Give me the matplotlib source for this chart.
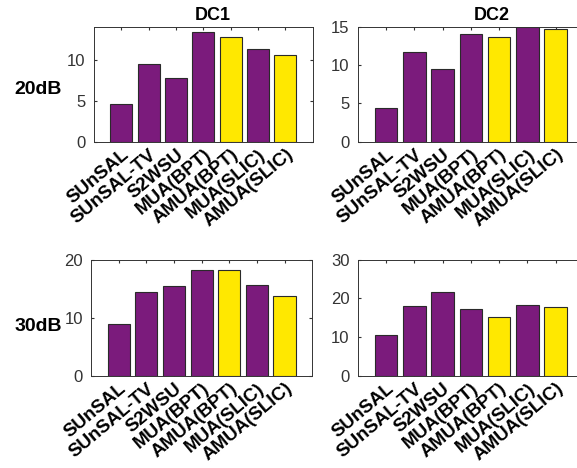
import matplotlib.pyplot as plt
import numpy as np

METHODS = ['SUnSAL', 'SUnSAL-TV', 'S2WSU', 'MUA(BPT)',
           'AMUA(BPT)', 'MUA(SLIC)', 'AMUA(SLIC)']
# which methods are the proposed ones (drawn in yellow)
PROPOSED = [False, False, False, False, True, False, True]

dc1_20db = [4.6, 9.5, 7.7, 13.4, 12.7, 11.3, 10.5]
dc2_20db = [4.4, 11.7, 9.5, 14.1, 13.7, 14.9, 14.7]
dc1_30db = [9.0, 14.5, 15.4, 18.3, 18.2, 15.7, 13.8]
dc2_30db = [10.6, 18.1, 21.7, 17.3, 15.2, 18.3, 17.8]

YLIMS = [(0, 14), (0, 15), (0, 20), (0, 30)]
YTICKS = [[0, 5, 10], [0, 5, 10, 15], [0, 10, 20], [0, 10, 20, 30]]

PURPLE = '#7b1b7c'
YELLOW = '#ffe800'
FRAME = '#333333'

plt.rcParams['font.family'] = ['Liberation Sans', 'DejaVu Sans']

fig = plt.figure(figsize=(5.77, 4.68), dpi=100)
positions = [
    (0.163, 0.697, 0.379, 0.246),
    (0.620, 0.697, 0.392, 0.246),
    (0.158, 0.197, 0.383, 0.248),
    (0.620, 0.197, 0.392, 0.248),
]
data = [dc1_20db, dc2_20db, dc1_30db, dc2_30db]

x = np.arange(1, len(METHODS) + 1)
colors = [YELLOW if p else PURPLE for p in PROPOSED]

for pos, vals, ylim, yt in zip(positions, data, YLIMS, YTICKS):
    ax = fig.add_axes(pos)
    ax.bar(x, vals, width=0.8, color=colors, edgecolor='#2a2a2a',
           linewidth=0.8, zorder=2)
    ax.set_xlim(0, 8)
    ax.set_ylim(*ylim)
    ax.set_yticks(yt)
    ax.set_xticks(x)
    ax.set_xticklabels(METHODS, rotation=40, ha='right',
                       rotation_mode='anchor', fontsize=13.5,
                       fontweight='bold', color='black')
    ax.tick_params(axis='x', direction='in', length=2, top=True,
                   pad=3, color=FRAME)
    ax.tick_params(axis='y', direction='in', length=2, right=True,
                   labelsize=12, labelcolor='#333333', color=FRAME, pad=6)
    for sp in ax.spines.values():
        sp.set_color(FRAME)
        sp.set_linewidth(0.7)

fig.text(0.368, 0.967, 'DC1', fontsize=13, fontweight='bold',
         ha='center', va='center')
fig.text(0.852, 0.967, 'DC2', fontsize=13, fontweight='bold',
         ha='center', va='center')
fig.text(0.066, 0.808, '20dB', fontsize=14, fontweight='bold',
         ha='center', va='center')
fig.text(0.066, 0.302, '30dB', fontsize=14, fontweight='bold',
         ha='center', va='center')

fig.savefig('out.png', dpi=100, facecolor='white')
